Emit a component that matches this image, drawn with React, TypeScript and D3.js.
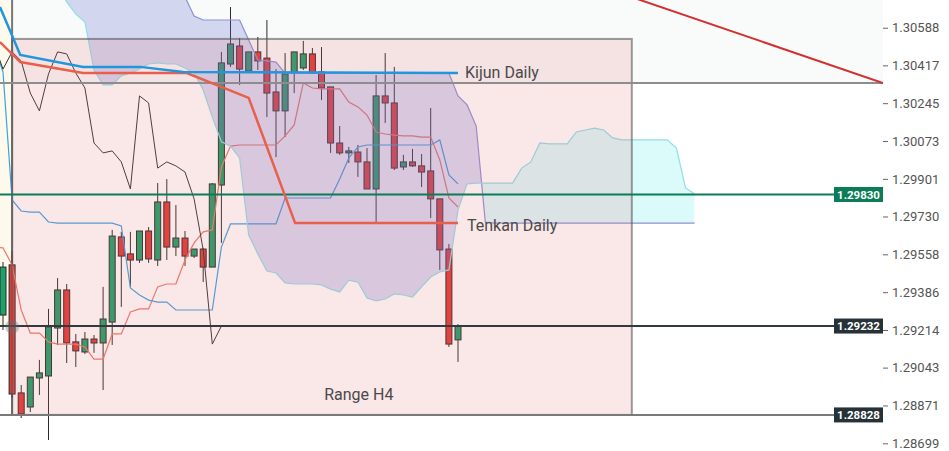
import React, { useEffect, useRef } from 'react';
import * as d3 from 'd3';

const W = 949;
const H = 451;
const PLOT_R = 883;

// H4 candles, index 0..50
const opens = [
  1.29282, 1.2951, 1.28928, 1.28864, 1.28996, 1.29005, 1.29223, 1.29396, 1.2916, 1.29114,
  1.29173, 1.29155, 1.2925, 1.29637, 1.2956, 1.29532, 1.29664, 1.29532, 1.29796, 1.29591,
  1.29632, 1.2955, 1.29582, 1.295, 1.29873, 1.30423, 1.30505, 1.30391, 1.30478, 1.3045,
  1.30296, 1.3021, 1.30382, 1.30405, 1.30469, 1.30387, 1.30319, 1.30064, 1.30019, 1.30023,
  1.29978, 1.29855, 1.30278, 1.30246, 1.29955, 1.29978, 1.2996, 1.29937, 1.2981, 1.29582,
  1.29169,
];
const highs = [
  1.29523, 1.29573, 1.28964, 1.29, 1.29078, 1.2931, 1.2945, 1.29423, 1.29196, 1.29205,
  1.29191, 1.2941, 1.29669, 1.2966, 1.2966, 1.29664, 1.29682, 1.29882, 1.299, 1.29782,
  1.29664, 1.29582, 1.29587, 1.29882, 1.30478, 1.30682, 1.30541, 1.30478, 1.30546, 1.30623,
  1.304, 1.30473, 1.30478, 1.30528, 1.30496, 1.305, 1.30319, 1.30141, 1.30046, 1.30055,
  1.30041, 1.30373, 1.30473, 1.3041, 1.3001, 1.30037, 1.30014, 1.30223, 1.2981, 1.29605,
  1.29241,
];
const lows = [
  1.29214, 1.28905, 1.28814, 1.28841, 1.28919, 1.28714, 1.29146, 1.29064, 1.29046, 1.29105,
  1.2911, 1.28941, 1.29146, 1.29319, 1.2941, 1.29519, 1.29519, 1.29505, 1.29532, 1.2955,
  1.29505, 1.29541, 1.29432, 1.295, 1.2961, 1.3041, 1.30328, 1.30382, 1.30396, 1.30182,
  1.3, 1.30091, 1.30291, 1.30396, 1.30382, 1.30259, 1.30019, 1.3001, 1.29973, 1.2991,
  1.29855, 1.29705, 1.30155, 1.29941, 1.29941, 1.29955, 1.29864, 1.29723, 1.29487, 1.29137,
  1.29069,
];
const closes = [
  1.295, 1.28923, 1.28832, 1.29, 1.29019, 1.29228, 1.29396, 1.29155, 1.29119, 1.29173,
  1.29155, 1.29264, 1.29641, 1.2955, 1.29532, 1.29664, 1.29537, 1.29796, 1.29591, 1.29632,
  1.2955, 1.29582, 1.295, 1.29878, 1.30428, 1.30514, 1.304, 1.30478, 1.30437, 1.30291,
  1.3021, 1.30378, 1.30478, 1.30469, 1.30382, 1.30314, 1.30064, 1.30019, 1.30028, 1.29978,
  1.29855, 1.30278, 1.30246, 1.2995, 1.29978, 1.2996, 1.29932, 1.2981, 1.29578, 1.2915,
  1.29232,
];

// H4 Tenkan / Kijun, index -1..50
const tenkanH4 = [
  1.29591, 1.29587, 1.2951, 1.29305, 1.292, 1.292, 1.2916, 1.2915, 1.2915, 1.2915,
  1.29137, 1.29082, 1.29082, 1.29196, 1.29196, 1.29296, 1.2931, 1.2931, 1.2941, 1.29423,
  1.29423, 1.29532, 1.2961, 1.2966, 1.29669, 1.29955, 1.3005, 1.30055, 1.30055, 1.30055,
  1.30055, 1.30055, 1.30096, 1.30146, 1.30337, 1.30314, 1.3031, 1.3031, 1.3031, 1.3025,
  1.30228, 1.30191, 1.30114, 1.30105, 1.301, 1.30096, 1.30096, 1.30091, 1.30091, 1.29987,
  1.29814, 1.29773,
];
const kijunH4 = [
  1.3051, 1.30387, 1.29805, 1.29755, 1.2975, 1.2975, 1.29705, 1.297, 1.297, 1.297,
  1.297, 1.297, 1.297, 1.297, 1.29687, 1.29405, 1.29373, 1.2935, 1.29341, 1.29341,
  1.29305, 1.29305, 1.29305, 1.29305, 1.29305, 1.29591, 1.29696, 1.29696, 1.29696, 1.29696,
  1.29696, 1.29696, 1.29814, 1.29814, 1.29814, 1.29814, 1.29814, 1.29814, 1.299, 1.29996,
  1.30046, 1.30055, 1.30055, 1.30055, 1.30055, 1.30055, 1.30055, 1.30055, 1.30055, 1.30078,
  1.29919, 1.29878,
];

// Senkou spans, index 6..76
const spanA = [
  1.30782, 1.30705, 1.3065, 1.30614, 1.30396, 1.30328, 1.30328, 1.30369, 1.30382, 1.304,
  1.30423, 1.30428, 1.30423, 1.30423, 1.30405, 1.30382, 1.30305, 1.30182, 1.30069, 1.3005,
  1.29996, 1.29646, 1.2956, 1.29482, 1.29473, 1.29428, 1.29423, 1.29423, 1.29423, 1.29419,
  1.294, 1.29387, 1.29441, 1.29432, 1.2936, 1.29346, 1.29355, 1.29378, 1.29373, 1.29364,
  1.2941, 1.29455, 1.29478, 1.29487, 1.2976, 1.29878, 1.29882, 1.29882, 1.29882, 1.29882,
  1.29882, 1.2995, 1.29978, 1.30064, 1.3006, 1.3006, 1.3006, 1.30114, 1.30123, 1.30132,
  1.30123, 1.30087, 1.30078, 1.30078, 1.30078, 1.30078, 1.30078, 1.30078, 1.30041, 1.2986,
  1.29832,
];
const spanB = [
  1.30805, 1.30805, 1.30805, 1.30805, 1.30805, 1.30805, 1.30805, 1.30805, 1.30805, 1.30805,
  1.30805, 1.30805, 1.30805, 1.30805, 1.30728, 1.30641, 1.30623, 1.30623, 1.30623, 1.30623,
  1.30623, 1.30532, 1.30441, 1.30437, 1.30432, 1.30382, 1.30382, 1.30382, 1.30382, 1.30382,
  1.30382, 1.30382, 1.30382, 1.30382, 1.30382, 1.30382, 1.30382, 1.30382, 1.30382, 1.30382,
  1.30382, 1.30382, 1.30382, 1.30382, 1.30278, 1.30237, 1.30141, 1.29705, 1.297, 1.297,
  1.297, 1.297, 1.297, 1.297, 1.297, 1.297, 1.297, 1.297, 1.297, 1.297,
  1.297, 1.297, 1.297, 1.297, 1.297, 1.297, 1.297, 1.297, 1.297, 1.297,
  1.297,
];

// Daily Ichimoku lines (bar index, price)
const kijunDailyIdx = [-0.33, 1.9, 8.8, 15.1, 19.8, 50];
const kijunDaily = [1.30682, 1.30464, 1.3041, 1.3041, 1.30387, 1.30382];
const tenkanDailyIdx = [-0.33, 1.9, 8.8, 20.2, 27, 32.1, 50];
const tenkanDaily = [1.30523, 1.30432, 1.30382, 1.30382, 1.30269, 1.297, 1.297];

// trend line
const trendIdx = [65, 96.7];
const trendPrice = [1.30785, 1.30337];

// levels
const levelTop = 1.30337;
const levelGreen = 1.2983;
const levelLast = 1.29232;
const levelLow = 1.28828;
const rangeTop = 1.30537;
const rangeIdx = [1, 69.1];

const ticks = [
  1.30588, 1.30417, 1.30245, 1.30073, 1.29901, 1.2973, 1.29558, 1.29386, 1.29214, 1.29043,
  1.28871, 1.28699,
];

const App: React.FC = () => {
  const ref = useRef<SVGSVGElement>(null);

  useEffect(() => {
    const svg = d3.select(ref.current!);
    svg.selectAll('*').remove();

    const x = d3.scaleLinear().domain([0, 50]).range([3, 458]);
    const y = d3.scaleLinear().domain([1.28664, 1.30714]).range([H, 0]);

    const defs = svg.append('defs');
    defs.append('clipPath').attr('id', 'plot')
      .append('rect').attr('x', 0).attr('y', 0).attr('width', PLOT_R).attr('height', H);

    const cloudIdx = d3.range(6, 77);
    const aboveA = d3.area<number>().x((i) => x(i)).y0(-50).y1((i) => y(spanA[i - 6]));
    const aboveB = d3.area<number>().x((i) => x(i)).y0(-50).y1((i) => y(spanB[i - 6]));
    defs.append('clipPath').attr('id', 'aboveA').append('path').attr('d', aboveA(cloudIdx)!);
    defs.append('clipPath').attr('id', 'aboveB').append('path').attr('d', aboveB(cloudIdx)!);

    const g = svg.append('g').attr('clip-path', 'url(#plot)');

    // backgrounds
    g.append('rect').attr('x', 0).attr('y', 0).attr('width', PLOT_R)
      .attr('height', y(levelTop)).attr('fill', '#f9fbfb');
    g.append('rect').attr('x', 0).attr('y', 0).attr('width', x(rangeIdx[0]))
      .attr('height', y(levelLast)).attr('fill', '#fdf9ec');
    g.append('line').attr('x1', x(rangeIdx[0])).attr('x2', x(rangeIdx[0]))
      .attr('y1', 0).attr('y2', y(levelLow)).attr('stroke', '#777').attr('stroke-width', 2);

    // candles
    const idx = d3.range(opens.length);
    const cg = g.append('g');
    cg.selectAll('line.wick').data(idx).enter().append('line')
      .attr('x1', (i) => x(i)).attr('x2', (i) => x(i))
      .attr('y1', (i) => y(highs[i])).attr('y2', (i) => y(lows[i]))
      .attr('stroke', '#2b2b2b').attr('stroke-width', 1);
    cg.selectAll('rect.body').data(idx).enter().append('rect')
      .attr('x', (i) => x(i) - 3)
      .attr('y', (i) => y(Math.max(opens[i], closes[i])))
      .attr('width', 6)
      .attr('height', (i) => Math.max(1.5, Math.abs(y(opens[i]) - y(closes[i]))))
      .attr('fill', (i) => (closes[i] >= opens[i] ? '#1fa06a' : '#e53935'))
      .attr('stroke', '#2b2b2b').attr('stroke-width', 1);

    // H4 lines
    const lineIdx = d3.range(-1, 51);
    const ln = d3.line<number>().x((i) => x(i));
    g.append('path').attr('d', ln.y((i) => y(tenkanH4[i + 1]))(lineIdx)!)
      .attr('fill', 'none').attr('stroke', '#ee7a68').attr('stroke-width', 1.2);
    g.append('path').attr('d', ln.y((i) => y(kijunH4[i + 1]))(lineIdx)!)
      .attr('fill', 'none').attr('stroke', '#3ea2e2').attr('stroke-width', 1.2);
    const chikIdx = d3.range(-1, 25);
    g.append('path').attr('d', ln.y((i) => y(closes[i + 26]))(chikIdx)!)
      .attr('fill', 'none').attr('stroke', '#333').attr('stroke-width', 1);

    // cloud
    const between = d3.area<number>().x((i) => x(i))
      .y0((i) => y(spanA[i - 6])).y1((i) => y(spanB[i - 6]));
    g.append('path').attr('d', between(cloudIdx)!).attr('clip-path', 'url(#aboveA)')
      .attr('fill', 'rgba(100,110,205,0.26)');
    g.append('path').attr('d', between(cloudIdx)!).attr('clip-path', 'url(#aboveB)')
      .attr('fill', 'rgba(0,225,230,0.14)');
    const spanLine = d3.line<number>().x((i) => x(i));
    g.append('path').attr('d', spanLine.y((i) => y(spanB[i - 6]))(cloudIdx)!)
      .attr('fill', 'none').attr('stroke', '#8f90d6').attr('stroke-width', 1.2);
    g.append('path').attr('d', spanLine.y((i) => y(spanA[i - 6]))(cloudIdx)!)
      .attr('fill', 'none').attr('stroke', '#92dde6').attr('stroke-width', 1.2);

    // range box
    g.append('rect')
      .attr('x', x(rangeIdx[0])).attr('y', y(rangeTop))
      .attr('width', x(rangeIdx[1]) - x(rangeIdx[0]))
      .attr('height', y(levelLow) - y(rangeTop))
      .attr('fill', 'rgba(225,110,120,0.17)')
      .attr('stroke', 'rgba(90,90,90,0.6)').attr('stroke-width', 2);
    g.append('text').attr('x', x(39.1)).attr('y', y(1.28896))
      .attr('text-anchor', 'middle').attr('font-size', 16).attr('fill', '#4a4a4a')
      .text('Range H4');

    // horizontal levels
    const levels = [
      { p: levelTop, c: '#8d8d8d' },
      { p: levelGreen, c: '#0b7d56' },
      { p: levelLast, c: '#333a3f' },
      { p: levelLow, c: '#7a7a7a' },
    ];
    g.selectAll('line.level').data(levels).enter().append('line')
      .attr('x1', 0).attr('x2', PLOT_R)
      .attr('y1', (d) => y(d.p)).attr('y2', (d) => y(d.p))
      .attr('stroke', (d) => d.c).attr('stroke-width', 2);

    // daily lines
    const dl = d3.line<[number, number]>().x((d) => x(d[0])).y((d) => y(d[1]));
    g.append('path').attr('d', dl(tenkanDailyIdx.map((v, i) => [v, tenkanDaily[i]]))!)
      .attr('fill', 'none').attr('stroke', '#e8604c').attr('stroke-width', 2.5);
    g.append('path').attr('d', dl(kijunDailyIdx.map((v, i) => [v, kijunDaily[i]]))!)
      .attr('fill', 'none').attr('stroke', '#2196dc').attr('stroke-width', 2.5);
    g.append('text').attr('x', x(50) + 7).attr('y', y(kijunDaily[kijunDaily.length - 1]) + 5)
      .attr('font-size', 16).attr('fill', '#4a4a4a').text('Kijun Daily');
    g.append('text').attr('x', x(50) + 9).attr('y', y(tenkanDaily[tenkanDaily.length - 1]) + 8)
      .attr('font-size', 16).attr('fill', '#4a4a4a').text('Tenkan Daily');

    // trend line
    g.append('path').attr('d', dl(trendIdx.map((v, i) => [v, trendPrice[i]]))!)
      .attr('fill', 'none').attr('stroke', '#d32f2f').attr('stroke-width', 2);

    // crosshair dot
    g.append('circle').attr('cx', x(1)).attr('cy', y(1.29228)).attr('r', 7)
      .attr('fill', 'rgba(110,110,110,0.35)');

    // price axis
    const axis = svg.append('g').attr('transform', `translate(${PLOT_R},0)`)
      .call(d3.axisRight(y).tickValues(ticks).tickFormat(d3.format('.5f')).tickSize(5).tickPadding(4));
    axis.select('.domain').remove();
    axis.selectAll('line').attr('stroke', '#666');
    axis.selectAll('text').attr('fill', '#555').attr('font-size', 13)
      .attr('font-family', 'Roboto, sans-serif');

    // price tags
    const tags = [
      { p: levelGreen, c: '#0b7d56' },
      { p: levelLast, c: '#263238' },
      { p: levelLow, c: '#263238' },
    ];
    const tg = svg.selectAll('g.tag').data(tags).enter().append('g')
      .attr('transform', (d) => `translate(${PLOT_R - 49},${y(d.p)})`);
    tg.append('rect').attr('x', 0).attr('y', -7.5).attr('width', 49).attr('height', 15)
      .attr('fill', (d) => d.c);
    tg.append('text').attr('x', 24.5).attr('y', 0).attr('dy', '0.36em')
      .attr('text-anchor', 'middle').attr('font-size', 11.5).attr('font-weight', 'bold')
      .attr('fill', '#fff').text((d) => d3.format('.5f')(d.p));
  }, []);

  return (
    <svg
      ref={ref}
      width={W}
      height={H}
      style={{ position: 'absolute', left: 0, top: 0, background: '#fff', fontFamily: 'Roboto, sans-serif' }}
    />
  );
};

export default App;
